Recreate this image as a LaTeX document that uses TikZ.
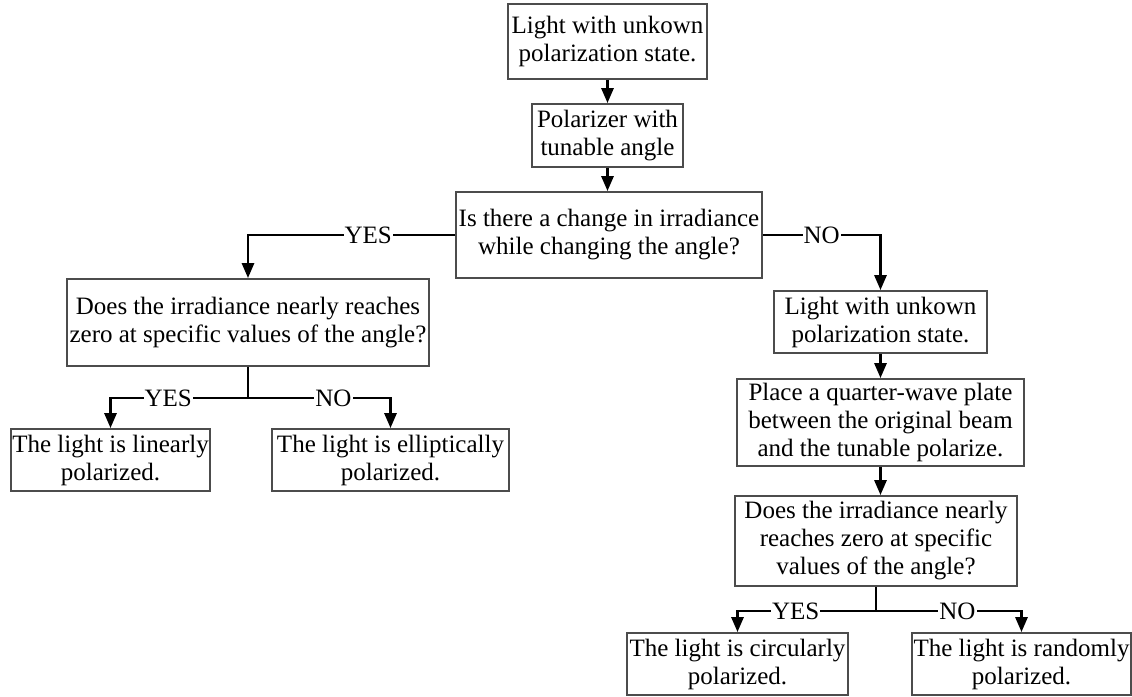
\documentclass[tikz,border=0pt]{standalone}
\usepackage{fontspec}
\setmainfont{Liberation Serif}
\usepackage{tikz}
\usetikzlibrary{positioning, arrows.meta}

\begin{document}
\begin{tikzpicture}[
      x=0.5pt, y=-0.5pt,
      box/.style={draw=black!70, line width=0.9pt, fill=white, align=center, inner sep=0pt,
                  font=\fontsize{12.5}{14}\selectfont},
      arrow/.style={-{Triangle[length=7.5pt, width=6pt]}, line width=1.4pt},
      link/.style={line width=1.4pt},
      answer/.style={fill=white, inner sep=0.5pt, font=\fontsize{12.5}{14}\selectfont}
    ]
    \useasboundingbox (0,0) rectangle (1132,697);

    % main column
    \node[box, minimum width=99.5pt, minimum height=37.5pt] (start) at (607.5,41.5)
      {Light with unkown\\polarization state.};
    \node[box, minimum width=75.5pt, minimum height=31.5pt] (polarizer) at (607.5,135.5)
      {Polarizer with\\tunable angle};
    \node[box, minimum width=153pt, minimum height=43pt] (change) at (609,235)
      {Is there a change in irradiance\\while changing the angle?};

    % left branch
    \node[box, minimum width=181pt, minimum height=43.5pt] (zeroA) at (248,322.5)
      {Does the irradiance nearly reaches\\zero at specific values of the angle?};
    \node[box, minimum width=99.5pt, minimum height=31pt] (linear) at (110.5,460)
      {The light is linearly\\polarized.};
    \node[box, minimum width=118.5pt, minimum height=31pt] (elliptic) at (390.5,460)
      {The light is elliptically\\polarized.};

    % right branch
    \node[box, minimum width=106.5pt, minimum height=31pt] (unknown) at (880.5,322)
      {Light with unkown\\polarization state.};
    \node[box, minimum width=143.5pt, minimum height=43.5pt] (quarter) at (880.5,422.5)
      {Place a quarter-wave plate\\between the original beam\\and the tunable polarize.};
    \node[box, minimum width=141pt, minimum height=45pt] (zeroB) at (876,541)
      {Does the irradiance nearly\\reaches zero at specific\\values of the angle?};
    \node[box, minimum width=110.5pt, minimum height=31pt] (circular) at (737.5,664)
      {The light is circularly\\polarized.};
    \node[box, minimum width=109.5pt, minimum height=31pt] (random) at (1021.5,664)
      {The light is randomly\\polarized.};

    \draw[arrow] (start.south) -- (start.south |- polarizer.north);
    \draw[arrow] (polarizer.south) -- (polarizer.south |- change.north);
    \draw[arrow] (change.west) -| node[answer, pos=0.21] {YES} (zeroA.north);
    \draw[arrow] (change.east) -| node[answer, pos=0.25] {NO} (unknown.north);
    \draw[arrow] (unknown.south) -- (unknown.south |- quarter.north);
    \draw[arrow] (quarter.south) -- (quarter.south |- zeroB.north);

    \draw[link] (zeroA.south) -- ++(0,31) coordinate (splitA);
    \draw[arrow] (splitA) -| node[answer, pos=0.29] {YES} (linear.north);
    \draw[arrow] (splitA) -| node[answer, pos=0.3] {NO} (elliptic.north);

    \draw[link] (zeroB.south) -- ++(0,24) coordinate (splitB);
    \draw[arrow] (splitB) -| node[answer, pos=0.29] {YES} (circular.north);
    \draw[arrow] (splitB) -| node[answer, pos=0.28] {NO} (random.north);
  \end{tikzpicture}
\end{document}
